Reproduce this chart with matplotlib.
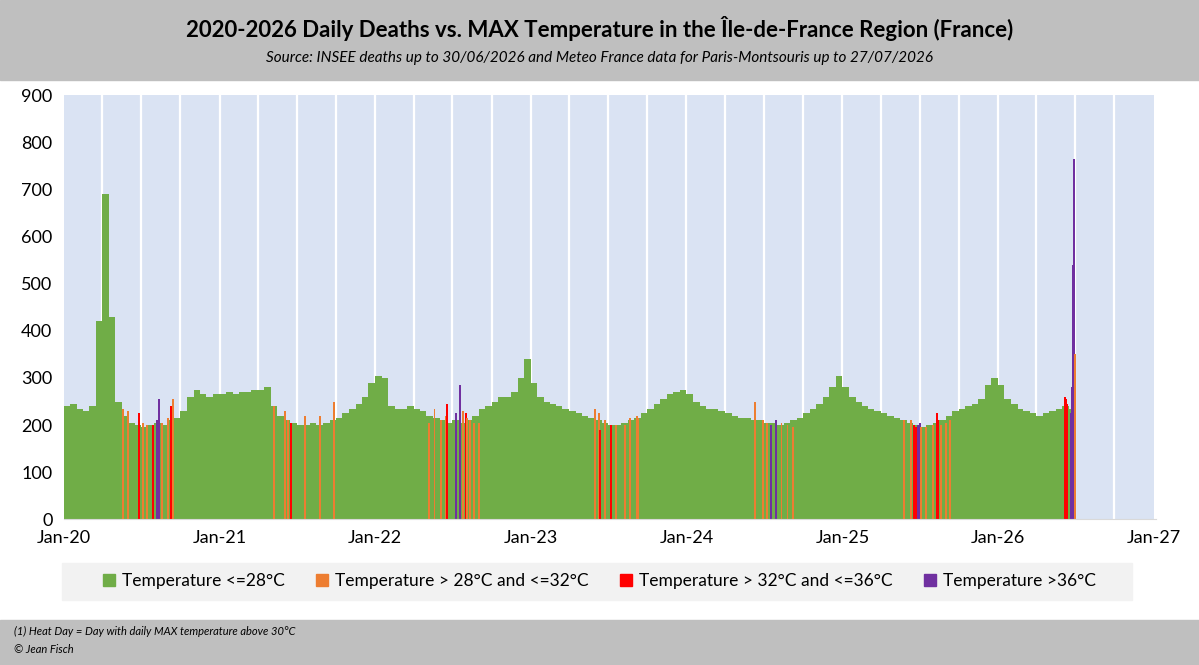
import matplotlib
matplotlib.use("Agg")
import matplotlib.pyplot as plt
import matplotlib.dates as mdates
from matplotlib.patches import Rectangle
import datetime as dt

plt.rcParams["font.family"] = ["Lato", "DejaVu Sans"]

# semi-monthly baseline deaths (1st and 16th of each month), Jan 2020 .. Jun 2026
base_vals = [
 240,245,235,230,240,420,690,430,250,220,205,200,195,200,205,200,210,215,230,260,275,265,260,265,
 265,270,265,270,270,275,275,280,240,220,210,205,200,200,205,200,205,210,215,225,235,245,260,290,
 305,300,240,235,235,240,235,230,220,215,210,205,210,205,210,220,235,240,250,260,260,270,300,340,
 290,260,250,245,240,235,230,225,220,215,210,205,200,200,205,210,215,225,235,245,255,265,270,275,
 265,250,240,235,235,230,225,220,215,215,210,210,205,205,200,205,210,215,225,235,245,260,280,305,
 280,260,250,240,235,230,225,220,215,210,205,200,195,200,205,210,220,230,235,240,245,255,285,300,
 285,255,245,235,230,225,220,225,230,235,240,235,
]
# hot days: (date, deaths, category)  1: >28<=32, 2: >32<=36, 3: >36
hot_days = [
 ("2020-05-20",235,1),("2020-05-31",230,1),("2020-06-25",225,2),("2020-07-05",205,1),("2020-07-15",200,1),
 ("2020-07-29",200,2),("2020-08-07",210,3),("2020-08-11",255,3),("2020-08-20",205,1),("2020-09-01",215,1),
 ("2020-09-10",240,2),("2020-09-14",255,1),
 ("2021-05-08",240,1),("2021-06-04",230,1),("2021-06-10",210,1),("2021-06-17",205,2),("2021-07-20",220,1),
 ("2021-08-25",220,1),("2021-09-26",250,1),
 ("2022-05-08",205,1),("2022-05-20",235,1),("2022-06-05",210,1),("2022-06-17",220,1),("2022-06-18",245,2),
 ("2022-07-09",225,3),("2022-07-19",285,3),("2022-07-25",230,1),("2022-08-03",225,2),("2022-08-05",215,1),
 ("2022-08-12",210,1),("2022-08-20",205,1),("2022-09-01",205,1),
 ("2023-06-01",235,1),("2023-06-10",225,1),("2023-06-13",190,2),("2023-06-25",210,1),("2023-07-08",200,2),
 ("2023-07-20",200,1),("2023-08-10",200,1),("2023-08-22",215,1),("2023-09-06",220,1),("2023-09-10",215,1),
 ("2024-06-10",250,1),("2024-06-28",210,1),("2024-07-08",205,1),("2024-07-18",200,3),("2024-07-30",210,3),
 ("2024-08-11",205,1),("2024-08-25",200,1),("2024-09-08",195,1),
 ("2025-05-25",210,1),("2025-06-10",210,1),("2025-06-18",200,2),("2025-06-22",195,2),("2025-06-28",200,3),
 ("2025-07-01",205,3),("2025-07-05",195,1),("2025-07-15",195,1),("2025-08-01",200,1),("2025-08-10",225,2),
 ("2025-08-13",210,2),("2025-08-20",200,1),("2025-09-01",205,1),("2025-09-10",210,1),
 ("2026-06-08",260,2),("2026-06-10",255,2),("2026-06-12",245,2),("2026-06-22",225,3),("2026-06-24",280,3),
 ("2026-06-26",540,3),("2026-06-28",765,3),("2026-06-30",350,1),
]
labels = ["Temperature <=28°C", "Temperature > 28°C and <=32°C",
          "Temperature > 32°C and <=36°C", "Temperature >36°C"]
colors = ["#70AD47", "#ED7D31", "#FF0000", "#7030A0"]

fig = plt.figure(figsize=(11.99, 6.65), dpi=100)
fig.patch.set_facecolor("white")
fig.add_artist(Rectangle((0, 0.88), 1, 0.12, transform=fig.transFigure, color="#BFBFBF", zorder=0))
fig.add_artist(Rectangle((0, 0), 1, 0.068, transform=fig.transFigure, color="#BFBFBF", zorder=0))
fig.add_artist(Rectangle((0.052, 0.098), 0.892, 0.056, transform=fig.transFigure, color="#F2F2F2", zorder=0))
fig.text(0.5, 0.957, "2020-2026 Daily Deaths vs. MAX Temperature in the Île-de-France Region (France)",
         ha="center", va="center", fontsize=16, fontweight="bold")
fig.text(0.5, 0.913, "Source: INSEE deaths up to 30/06/2026 and Meteo France data for Paris-Montsouris up to 27/07/2026",
         ha="center", va="center", fontsize=11, style="italic")
fig.text(0.012, 0.045, "(1) Heat Day = Day with daily MAX temperature above 30°C", fontsize=8, style="italic")
fig.text(0.012, 0.018, "© Jean Fisch", fontsize=8, style="italic")

ax = fig.add_axes([0.053, 0.219, 0.911, 0.638])
x0 = []
for i in range(len(base_vals)):
    y, m = 2020 + (i // 24), (i % 24) // 2 + 1
    x0.append(dt.date(y, m, 1 if i % 2 == 0 else 16))
xs = mdates.date2num(x0)
ws = [(xs[i + 1] - xs[i]) if i + 1 < len(xs) else 15 for i in range(len(xs))]
ax.bar(xs, base_vals, width=ws, align="edge", color=colors[0], linewidth=0, zorder=3)
for d, v, c in hot_days:
    ax.bar(mdates.date2num(dt.date.fromisoformat(d)), v, width=4.5, color=colors[c], linewidth=0, zorder=4)

bg0, bg1 = mdates.date2num(dt.date(2020, 1, 1)), mdates.date2num(dt.date(2027, 1, 1))
ax.add_patch(Rectangle((bg0, 0), bg1 - bg0, 900, color="#DAE3F3", zorder=1, linewidth=0))
for y in range(2020, 2027):
    for m in (1, 4, 7, 10):
        if (y, m) != (2020, 1):
            ax.axvline(mdates.date2num(dt.date(y, m, 1)), color="white", lw=1.6, zorder=2)
ax.set_xlim(mdates.date2num(dt.date(2020, 1, 1)), mdates.date2num(dt.date(2027, 1, 6)))
ax.set_ylim(0, 900)
ax.set_yticks(range(0, 901, 100))
ax.set_xticks([mdates.date2num(dt.date(y, 1, 1)) for y in range(2020, 2028)])
ax.set_xticklabels([f"Jan-{y % 100}" for y in range(2020, 2028)])
ax.tick_params(axis="both", length=0, labelsize=13, pad=8)
for s in ["top", "right", "left"]:
    ax.spines[s].set_visible(False)
ax.spines["bottom"].set_color("#D9D9D9")
ax.spines["bottom"].set_zorder(5)

handles = [Rectangle((0, 0), 1, 1, color=c) for c in colors]
fig.legend(handles, labels, loc="center", bbox_to_anchor=(0.5, 0.126), ncol=4, frameon=False,
           fontsize=12.5, handlelength=0.7, handleheight=0.7, columnspacing=1.8, handletextpad=0.4)
fig.savefig("out.png", dpi=100)
